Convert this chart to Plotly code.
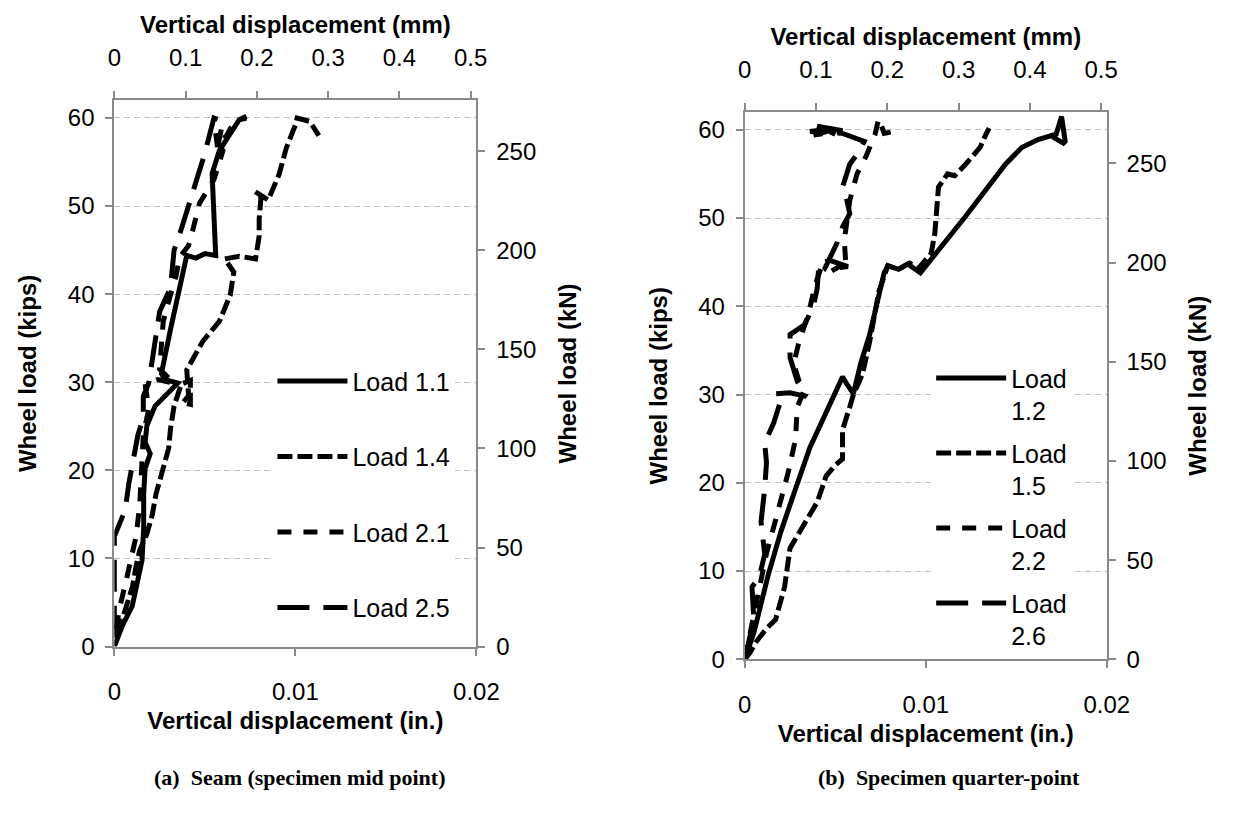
import plotly.graph_objects as go

# ---------------- data (x: vertical displacement, in.; y: wheel load, kips) -------------
# Panel (a): seam (specimen mid point)
a_l11_x = [0, 0.00045, 0.00099, 0.00117, 0.00153, 0.00162, 0.00162, 0.0017, 0.00198, 0.0017, 0.0018,
           0.00225, 0.0030, 0.0035, 0.0028, 0.0026, 0.0031, 0.0036, 0.0040, 0.0045, 0.0050, 0.0056,
           0.0055, 0.0054, 0.0058, 0.0064, 0.0069, 0.0073]
a_l11_y = [0, 2.4, 4.6, 6.5, 9.8, 13.5, 17.3, 20.2, 21.9, 23.2, 25.1,
           27.3, 28.8, 29.9, 30.3, 31.0, 36.0, 40.5, 44.4, 44.1, 44.6, 44.4,
           49.0, 53.7, 56.3, 58.1, 59.8, 60.0]

a_l14_x = [0.0002, 0.0008, 0.0010, 0.0012, 0.0014, 0.0018, 0.0021, 0.0023, 0.0026, 0.0030, 0.0031,
           0.0033, 0.0037, 0.0042, 0.0042, 0.0038, 0.0041, 0.0040, 0.0049, 0.0058, 0.0064, 0.0066,
           0.0061, 0.0069, 0.0078, 0.0080, 0.0080, 0.0081, 0.0078, 0.0085, 0.0091, 0.0095, 0.0100,
           0.0101, 0.0108, 0.0113]
a_l14_y = [1.5, 5.4, 6.8, 9.1, 10.9, 12.8, 15.0, 17.3, 19.5, 22.5, 24.7,
           27.3, 29.8, 30.2, 27.5, 27.7, 28.5, 31.4, 34.7, 36.9, 39.9, 42.5,
           44.0, 44.3, 44.0, 46.6, 48.5, 51.0, 51.6, 50.7, 53.6, 56.6, 59.2,
           60.0, 59.6, 58.0]

a_l21_x = [0.0001, 0.0003, 0.0006, 0.0009, 0.0012, 0.0014, 0.0015, 0.0016, 0.0019, 0.0017, 0.0024,
           0.0033, 0.0025, 0.0027, 0.0031, 0.0034, 0.0036, 0.0038, 0.0041, 0.0043, 0.0047, 0.0055,
           0.0060, 0.0057, 0.0062, 0.0066, 0.0073]
a_l21_y = [2.0, 4.5, 7.0, 9.5, 12.5, 16.0, 20.0, 24.0, 27.0, 29.8, 30.3,
           29.9, 31.5, 36.9, 39.9, 42.0, 44.2, 44.8, 45.5, 47.0, 50.3, 53.0,
           56.3, 57.0, 58.0, 59.5, 60.2]

a_l25_x = [0, 0, 0.0002, 0.0006, 0.0008, 0.0011, 0.0013, 0.0016, 0.0016, 0.0019, 0.0021,
           0.0025, 0.0031, 0.0033, 0.0037, 0.0042, 0.0044, 0.0050, 0.0055, 0.0060, 0.0057, 0.0055]
a_l25_y = [1.0, 12.5, 13.5, 15.5, 18.5, 21.5, 24.0, 26.0, 28.4, 29.9, 32.5,
           38.0, 40.7, 45.0, 47.4, 50.7, 52.4, 56.0, 60.0, 59.6, 56.7, 59.8]

# Panel (b): specimen quarter-point
b_l12_x = [0, 0.0005, 0.0013, 0.0020, 0.0028, 0.0036, 0.0045, 0.0051, 0.0054, 0.0057, 0.0060,
           0.0064, 0.0069, 0.0077, 0.0079, 0.0085, 0.0090, 0.0097, 0.0122, 0.0144, 0.0153,
           0.0162, 0.0169, 0.0172, 0.0175, 0.0177, 0.0176, 0.0170]
b_l12_y = [0, 3.0, 9.6, 14.5, 19.3, 24.0, 28.0, 30.5, 32.0, 31.0, 30.1,
           33.5, 36.8, 43.8, 44.6, 44.2, 44.8, 43.8, 50.2, 56.1, 58.0,
           58.9, 59.4, 59.5, 61.5, 58.7, 58.5, 59.2]

b_l15_x = [0, 0.0003, 0.0006, 0.0012, 0.0017, 0.0022, 0.0025, 0.0029, 0.0033, 0.0040, 0.0045,
           0.0050, 0.0054, 0.0054, 0.0058, 0.0060, 0.0065, 0.0069, 0.0074, 0.0079, 0.0085, 0.0091,
           0.0096, 0.0103, 0.0105, 0.0106, 0.0107, 0.0112, 0.0116, 0.0122, 0.0130, 0.0133, 0.0135]
b_l15_y = [0, 0.8, 1.9, 3.5, 4.5, 8.2, 12.6, 14.0, 15.2, 17.8, 20.8,
           22.0, 22.7, 26.0, 28.6, 30.0, 32.3, 36.0, 41.6, 44.6, 44.2, 44.9,
           44.3, 46.0, 48.3, 51.3, 53.5, 55.0, 54.8, 56.1, 58.0, 59.4, 60.2]

b_l22_x = [0, 0.0003, 0.0006, 0.0009, 0.0012, 0.0016, 0.0020, 0.0024, 0.0028, 0.0029, 0.0033,
           0.0030, 0.0027, 0.0030, 0.0035, 0.0039, 0.0042, 0.0048, 0.0053, 0.0056, 0.0055, 0.0058,
           0.0062, 0.0067, 0.0072, 0.0074, 0.0077, 0.0082, 0.0080]
b_l22_y = [0, 3.0, 6.0, 9.0, 12.0, 15.0, 18.0, 21.2, 24.9, 28.6, 30.5,
           31.5, 33.5, 36.0, 39.0, 42.5, 44.3, 44.0, 44.6, 44.2, 47.5, 52.0,
           55.0, 57.0, 59.5, 61.3, 59.6, 59.8, 59.0]

b_l26_x = [0, 0.0002, 0.0005, 0.0004, 0.0008, 0.0011, 0.0009, 0.0011, 0.0012, 0.0011, 0.0016,
           0.0020, 0.0017, 0.0025, 0.0034, 0.0029, 0.0025, 0.0025, 0.0033, 0.0038, 0.0040, 0.0041,
           0.0047, 0.0057, 0.0044, 0.0051, 0.0054, 0.0058, 0.0056, 0.0054, 0.0058, 0.0063, 0.0066,
           0.0054, 0.0036, 0.0052, 0.0038, 0.0054, 0.0040, 0.0050]
b_l26_y = [0, 2.0, 4.5, 8.2, 9.3, 11.9, 15.6, 19.3, 22.3, 24.5, 26.8,
           29.4, 30.1, 30.2, 29.8, 31.5, 34.2, 36.8, 37.9, 40.1, 42.0, 44.9,
           45.2, 44.5, 44.2, 47.2, 49.0, 50.5, 52.4, 53.5, 56.1, 57.5, 58.7,
           59.6, 59.8, 60.2, 59.4, 59.9, 60.4, 59.5]

a_names = ["Load 1.1", "Load 1.4", "Load 2.1", "Load 2.5"]
b_names = ["Load<br>1.2", "Load<br>1.5", "Load<br>2.2", "Load<br>2.6"]

IN_MAX = 0.02          # in.
KIPS_MAX = 62          # kips
MM_MAX = IN_MAX * 25.4
KN_MAX = KIPS_MAX * 4.44822

# ---------------- styles ----------------
dashes = ["solid", "15px,5px", "14px,12px", "32px,14px"]
FONT = "Liberation Sans, Arial, sans-serif"
AXIS_GRAY = "#8a8a8a"
GRID_GRAY = "#c0c0c0"

fig = go.Figure()

a_series = [(a_l11_x, a_l11_y), (a_l14_x, a_l14_y), (a_l21_x, a_l21_y), (a_l25_x, a_l25_y)]
b_series = [(b_l12_x, b_l12_y), (b_l15_x, b_l15_y), (b_l22_x, b_l22_y), (b_l26_x, b_l26_y)]

for i, ((xs, ys), nm) in enumerate(zip(a_series, a_names)):
    fig.add_trace(go.Scatter(x=xs, y=ys, mode="lines", name=nm, legendgroup="a%d" % i,
                             line=dict(color="black", width=5, dash=dashes[i]),
                             xaxis="x", yaxis="y", legend="legend"))
for i, ((xs, ys), nm) in enumerate(zip(b_series, b_names)):
    fig.add_trace(go.Scatter(x=xs, y=ys, mode="lines", name=nm, legendgroup="b%d" % i,
                             line=dict(color="black", width=5, dash=dashes[i]),
                             xaxis="x3", yaxis="y3", legend="legend2"))

# empty traces so the secondary (mm / kN) axes are drawn
for xa, ya in [("x2", "y"), ("x", "y2"), ("x4", "y3"), ("x3", "y4")]:
    fig.add_trace(go.Scatter(x=[], y=[], mode="lines", showlegend=False, hoverinfo="skip",
                             xaxis=xa, yaxis=ya))

W, H = 1244, 815


def px_x(p):
    return p / W


def px_y(p):
    return 1 - p / H


tickfont = dict(family=FONT, size=24, color="black")
titlefont = dict(family=FONT, size=24, color="black", weight="bold")

common = dict(showline=True, linecolor=AXIS_GRAY, linewidth=2, ticks="outside", ticklen=7,
              tickwidth=1.5, tickcolor=AXIS_GRAY, tickfont=tickfont, zeroline=False,
              showgrid=False, ticklabelstandoff=16)


def add_panel(xa, xa2, ya, ya2, left_px, right_px, top_px, bottom_px):
    xdom = [px_x(left_px), px_x(right_px)]
    ydom = [px_y(bottom_px), px_y(top_px)]
    n = lambda s: s.replace("axis", "")
    fig.update_layout({
        xa: dict(common, domain=xdom, range=[0, IN_MAX], dtick=0.01, anchor=n(ya), side="bottom",
                 title=dict(text="Vertical displacement (in.)", font=titlefont, standoff=8)),
        xa2: dict(common, range=[0, MM_MAX], dtick=0.1, overlaying=n(xa), anchor=n(ya), side="top",
                  title=dict(text="Vertical displacement (mm)", font=titlefont, standoff=3)),
        ya: dict(common, domain=ydom, range=[0, KIPS_MAX], dtick=10, anchor=n(xa), side="left",
                 ticklabelstandoff=6,
                 showgrid=True, gridcolor=GRID_GRAY, griddash="6px,4px", gridwidth=1.3,
                 title=dict(text="Wheel load (kips)", font=titlefont, standoff=24)),
        ya2: dict(common, range=[0, KN_MAX], dtick=50, overlaying=n(ya), anchor=n(xa), side="right",
                  ticklabelstandoff=6,
                  title=dict(text="Wheel load (kN)", font=titlefont, standoff=24)),
    })


add_panel("xaxis", "xaxis2", "yaxis", "yaxis2", 110, 481, 102, 657)
add_panel("xaxis3", "xaxis4", "yaxis3", "yaxis4", 756, 1127, 114, 670)

legfont = dict(family=FONT, size=25, color="black")
fig.update_layout(
    width=W, height=H, margin=dict(l=0, r=0, t=0, b=0),
    paper_bgcolor="white", plot_bgcolor="white", showlegend=True,
    legend=dict(x=px_x(272), y=px_y(364), xanchor="left", yanchor="top", bgcolor="white",
                font=legfont, traceorder="grouped", tracegroupgap=40, itemwidth=70),
    legend2=dict(x=px_x(947), y=px_y(361), xanchor="left", yanchor="top", bgcolor="white",
                 font=legfont, traceorder="grouped", tracegroupgap=7, valign="top", itemwidth=70),
    annotations=[
        dict(text="<b>(a)  Seam (specimen mid point)</b>", x=px_x(300), y=px_y(790),
             xref="paper", yref="paper", showarrow=False, xanchor="center", yanchor="middle",
             font=dict(family="Liberation Serif, Times New Roman, serif", size=22, color="black")),
        dict(text="<b>(b)  Specimen quarter-point</b>", x=px_x(965), y=px_y(790),
             xref="paper", yref="paper", showarrow=False, xanchor="center", yanchor="middle",
             font=dict(family="Liberation Serif, Times New Roman, serif", size=22, color="black")),
    ],
)

fig.write_html("out.html")
